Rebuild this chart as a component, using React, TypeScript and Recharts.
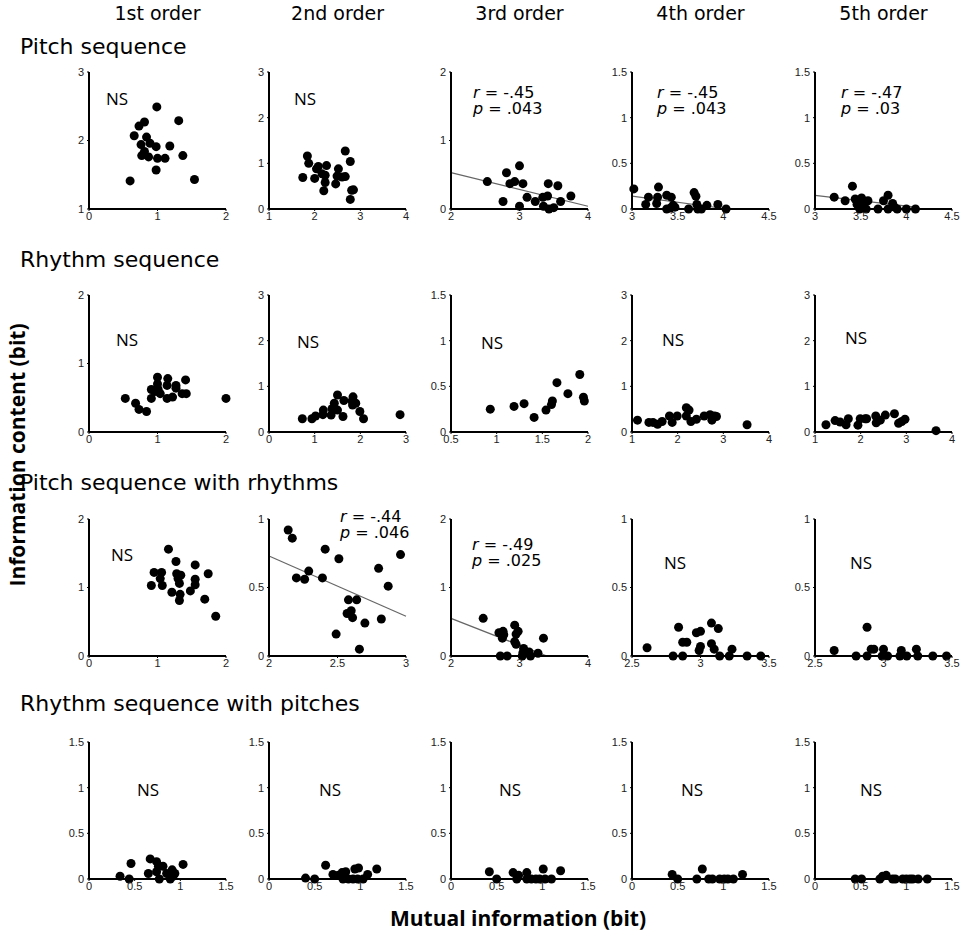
import React from 'react';
import { ScatterChart, Scatter, XAxis, YAxis, ReferenceLine } from 'recharts';

type Pt = [number, number];

const orders = ['1st order', '2nd order', '3rd order', '4th order', '5th order'];
const conditions = [
  'Pitch sequence',
  'Rhythm sequence',
  'Pitch sequence with rhythms',
  'Rhythm sequence with pitches',
];

// [mutual information, information content] for each participant
const pitch1: Pt[] = [[0.99,2.49],[0.73,2.21],[0.81,2.27],[1.31,2.29],[0.66,2.07],[0.84,2.05],[0.76,1.94],[0.89,1.96],[0.98,1.91],[0.81,1.84],[1.18,1.92],[0.77,1.78],[0.87,1.76],[1.0,1.74],[1.11,1.74],[1.37,1.78],[0.98,1.57],[0.6,1.41],[1.54,1.43]];
const pitch2: Pt[] = [[1.84,1.16],[1.87,1.0],[1.74,0.69],[2.0,0.67],[2.04,0.88],[2.08,0.93],[2.26,0.95],[2.16,0.77],[2.23,0.74],[2.23,0.58],[2.2,0.4],[2.46,0.55],[2.52,0.88],[2.49,0.72],[2.6,0.7],[2.67,0.71],[2.67,1.27],[2.78,1.04],[2.81,0.41],[2.85,0.42],[2.78,0.21]];
const pitch3: Pt[] = [[2.53,0.4],[2.81,0.53],[2.86,0.37],[2.93,0.4],[3.0,0.63],[3.05,0.37],[2.76,0.11],[3.0,0.04],[3.11,0.17],[3.23,0.11],[3.34,0.17],[3.42,0.37],[3.41,0.19],[3.35,0.04],[3.43,0],[3.5,0.02],[3.56,0.34],[3.6,0.11],[3.75,0.19]];
const pitch4: Pt[] = [[3.02,0.22],[3.15,0.05],[3.18,0.13],[3.29,0.24],[3.28,0.13],[3.27,0.06],[3.38,0.15],[3.43,0.13],[3.38,0],[3.42,0.01],[3.45,0.04],[3.47,0.02],[3.62,0],[3.68,0.18],[3.7,0.14],[3.71,0.05],[3.72,0],[3.76,0],[3.82,0.04],[3.94,0.05],[4.03,0]];
const pitch5: Pt[] = [[3.21,0.13],[3.33,0.09],[3.41,0.25],[3.44,0.11],[3.46,0.05],[3.49,0],[3.51,0.12],[3.54,0.07],[3.56,0],[3.58,0.09],[3.69,0],[3.75,0.09],[3.8,0.15],[3.8,0],[3.85,0.06],[3.87,0.02],[3.9,0],[4.0,0],[4.1,0]];

const rhythm1: Pt[] = [[0.53,0.49],[0.68,0.42],[0.73,0.33],[0.84,0.3],[0.91,0.62],[0.91,0.49],[1.0,0.8],[1.0,0.7],[1.01,0.62],[0.96,0.59],[1.04,0.56],[1.15,0.78],[1.14,0.68],[1.14,0.49],[1.22,0.51],[1.27,0.68],[1.27,0.64],[1.41,0.76],[1.36,0.56],[1.42,0.56],[2.0,0.49]];
const rhythm2: Pt[] = [[0.73,0.29],[0.94,0.29],[1.02,0.35],[1.18,0.38],[1.19,0.48],[1.36,0.37],[1.38,0.51],[1.43,0.63],[1.5,0.81],[1.5,0.48],[1.62,0.34],[1.64,0.69],[1.84,0.77],[1.82,0.68],[1.83,0.59],[1.9,0.63],[1.99,0.45],[2.07,0.29],[2.87,0.38]];
const rhythm3: Pt[] = [[0.93,0.25],[1.19,0.28],[1.3,0.31],[1.41,0.16],[1.54,0.24],[1.6,0.3],[1.61,0.34],[1.66,0.54],[1.78,0.42],[1.91,0.63],[1.95,0.38],[1.96,0.34]];
const rhythm4: Pt[] = [[1.12,0.26],[1.37,0.21],[1.46,0.21],[1.56,0.17],[1.66,0.23],[1.82,0.35],[1.88,0.21],[1.99,0.35],[2.19,0.53],[2.25,0.48],[2.19,0.35],[2.29,0.23],[2.41,0.28],[2.58,0.35],[2.71,0.38],[2.75,0.26],[2.81,0.35],[2.85,0.34],[3.52,0.16]];
const rhythm5: Pt[] = [[1.24,0.16],[1.44,0.25],[1.55,0.22],[1.68,0.16],[1.73,0.29],[1.94,0.15],[1.99,0.29],[2.1,0.29],[2.13,0.29],[2.33,0.35],[2.34,0.2],[2.38,0.27],[2.43,0.26],[2.54,0.37],[2.74,0.4],[2.83,0.19],[2.9,0.23],[2.97,0.28],[3.65,0.03]];

const pitchR1: Pt[] = [[1.16,1.56],[1.27,1.38],[1.55,1.33],[0.95,1.22],[1.06,1.22],[1.28,1.2],[1.34,1.18],[1.74,1.2],[1.04,1.13],[1.3,1.13],[1.55,1.12],[0.91,1.03],[1.07,1.03],[1.32,1.06],[1.55,1.04],[1.21,0.93],[1.48,0.95],[1.33,0.9],[1.69,0.83],[1.32,0.81],[1.85,0.58]];
const pitchR2: Pt[] = [[2.14,0.92],[2.17,0.86],[2.41,0.78],[2.51,0.71],[2.96,0.74],[2.8,0.64],[2.2,0.57],[2.26,0.56],[2.29,0.62],[2.39,0.57],[2.87,0.51],[2.58,0.41],[2.64,0.41],[2.57,0.31],[2.6,0.33],[2.61,0.28],[2.7,0.24],[2.82,0.27],[2.49,0.16],[2.66,0.05]];
const pitchR3: Pt[] = [[2.47,0.55],[2.7,0.34],[2.76,0.36],[2.77,0.31],[2.75,0.26],[2.93,0.45],[2.98,0.36],[2.95,0.32],[2.93,0.21],[2.95,0.17],[3.06,0.11],[3.05,0.05],[3.14,0.06],[3.27,0.04],[3.35,0.26],[2.72,0],[2.82,0],[3.04,0],[3.16,0]];
const pitchR4: Pt[] = [[2.61,0.06],[2.84,0.21],[2.8,0],[2.87,0],[2.87,0.1],[2.9,0.1],[2.97,0.17],[3.0,0.18],[3.08,0.24],[3.13,0.2],[3.0,0.07],[2.99,0.04],[3.08,0.09],[3.1,0.05],[3.14,0],[3.21,0],[3.23,0.05],[3.34,0],[3.44,0]];
const pitchR5: Pt[] = [[2.64,0.04],[2.8,0],[2.88,0.21],[2.88,0],[2.91,0.05],[2.93,0.05],[3.0,0.05],[2.99,0],[3.03,0],[3.12,0],[3.13,0.04],[3.17,0],[3.24,0.05],[3.25,0],[3.36,0],[3.46,0]];

const rhythmP1: Pt[] = [[0.34,0.03],[0.46,0.17],[0.44,0],[0.67,0.22],[0.65,0.06],[0.74,0.19],[0.76,0.14],[0.81,0.14],[0.74,0.08],[0.77,0],[0.85,0.06],[0.91,0.1],[0.94,0.06],[0.89,0],[0.92,0.03],[1.03,0.16]];
const rhythmP2: Pt[] = [[0.4,0.01],[0.5,0],[0.62,0.15],[0.7,0.05],[0.76,0.04],[0.8,0.07],[0.84,0.08],[0.81,0],[0.87,0],[0.92,0],[0.94,0.11],[0.98,0.12],[0.97,0],[1.03,0],[1.08,0.05],[1.18,0.11]];
const rhythmP3: Pt[] = [[0.42,0.08],[0.5,0],[0.68,0.07],[0.74,0.04],[0.72,0],[0.83,0.07],[0.83,0],[0.88,0],[0.93,0],[0.97,0],[1.01,0.11],[1.03,0],[1.1,0],[1.2,0.09]];
const rhythmP4: Pt[] = [[0.44,0.05],[0.5,0],[0.71,0],[0.77,0.11],[0.84,0],[0.88,0],[0.96,0],[1.01,0],[1.05,0],[1.11,0],[1.21,0.05]];
const rhythmP5: Pt[] = [[0.44,0],[0.51,0],[0.71,0],[0.74,0.03],[0.78,0.04],[0.85,0],[0.88,0],[0.96,0],[1.0,0],[1.04,0],[1.07,0],[1.13,0],[1.23,0]];

// axis ticks per panel (first and last tick are the axis limits)
const xTicks: number[][][] = [
  [[0, 1, 2], [1, 2, 3, 4], [2, 3, 4], [3, 3.5, 4, 4.5], [3, 3.5, 4, 4.5]],
  [[0, 1, 2], [0, 1, 2, 3], [0.5, 1, 1.5, 2], [1, 2, 3, 4], [1, 2, 3, 4]],
  [[0, 1, 2], [2, 2.5, 3], [2, 3, 4], [2.5, 3, 3.5], [2.5, 3, 3.5]],
  [[0, 0.5, 1, 1.5], [0, 0.5, 1, 1.5], [0, 0.5, 1, 1.5], [0, 0.5, 1, 1.5], [0, 0.5, 1, 1.5]],
];
const yTicks: number[][][] = [
  [[1, 2, 3], [0, 1, 2, 3], [0, 1, 2], [0, 0.5, 1, 1.5], [0, 0.5, 1, 1.5]],
  [[0, 1, 2], [0, 1, 2, 3], [0, 0.5, 1, 1.5], [0, 1, 2, 3], [0, 1, 2, 3]],
  [[0, 1, 2], [0, 0.5, 1], [0, 1, 2], [0, 0.5, 1], [0, 0.5, 1]],
  [[0, 0.5, 1, 1.5], [0, 0.5, 1, 1.5], [0, 0.5, 1, 1.5], [0, 0.5, 1, 1.5], [0, 0.5, 1, 1.5]],
];

// regression lines (endpoints) and statistics of the significant panels
const pitch3Fit: Pt[] = [[2, 0.53], [4, 0.04]];
const pitch4Fit: Pt[] = [[3, 0.14], [4.05, 0]];
const pitch5Fit: Pt[] = [[3, 0.15], [4.1, 0.02]];
const pitchR2Fit: Pt[] = [[2, 0.73], [3, 0.29]];
const pitchR3Fit: Pt[] = [[2, 0.55], [3.4, 0]];

const pitch3Stat = { r: '-.45', p: '.043' };
const pitch4Stat = { r: '-.45', p: '.043' };
const pitch5Stat = { r: '-.47', p: '.03' };
const pitchR2Stat = { r: '-.44', p: '.046' };
const pitchR3Stat = { r: '-.49', p: '.025' };

const panels = [
  [pitch1, pitch2, pitch3, pitch4, pitch5],
  [rhythm1, rhythm2, rhythm3, rhythm4, rhythm5],
  [pitchR1, pitchR2, pitchR3, pitchR4, pitchR5],
  [rhythmP1, rhythmP2, rhythmP3, rhythmP4, rhythmP5],
];
const fits: (Pt[] | null)[][] = [
  [null, null, pitch3Fit, pitch4Fit, pitch5Fit],
  [null, null, null, null, null],
  [null, pitchR2Fit, pitchR3Fit, null, null],
  [null, null, null, null, null],
];
const stats: ({ r: string; p: string } | null)[][] = [
  [null, null, pitch3Stat, pitch4Stat, pitch5Stat],
  [null, null, null, null, null],
  [null, pitchR2Stat, pitchR3Stat, null, null],
  [null, null, null, null, null],
];

// layout: plot-area origin of each column / row, and label offsets inside a panel
const colLeft = [89, 269, 451, 632, 815];
const rowTop = [72, 295, 519, 742];
const rowTitleY = [46, 259, 482, 703];
const PW = 137;
const PH = 137;
const AXW = 30;
const noteAt: number[][][] = [
  [[28, 26], [36, 26], [22, 21], [25, 21], [26, 21]],
  [[38, 44], [39, 46], [41, 47], [41, 44], [41, 42]],
  [[33, 35], [71, -2], [21, 26], [43, 43], [46, 43]],
  [[59, 47], [61, 47], [59, 47], [60, 47], [56, 47]],
];

const labelFont = "'Open Sans', 'DejaVu Sans', sans-serif";
const titleFont = "'DejaVu Sans', sans-serif";
const tickStyle = { fontSize: 11, fill: '#222', fontFamily: "'Liberation Sans', Arial, sans-serif" };

const Dot = (p: any) => <circle cx={p.cx} cy={p.cy} r={4.5} fill="#000" />;

function Panel({ pts, xt, yt, fit, left, top }: { pts: Pt[]; xt: number[]; yt: number[]; fit: Pt[] | null; left: number; top: number }) {
  const data = pts.map(([x, y]) => ({ x, y }));
  return (
    <div style={{ position: 'absolute', left: left - AXW, top: top - 5 }}>
      <ScatterChart width={AXW + PW + 14} height={5 + PH + 20} margin={{ top: 5, right: 14, left: 0, bottom: 0 }}>
        <XAxis
          type="number"
          dataKey="x"
          domain={[xt[0], xt[xt.length - 1]]}
          ticks={xt}
          interval={0}
          height={20}
          axisLine={{ stroke: '#000', strokeWidth: 2 }}
          tickLine={{ stroke: '#000' }}
          tickSize={2}
          tickMargin={1}
          tick={tickStyle}
        />
        <YAxis
          type="number"
          dataKey="y"
          domain={[yt[0], yt[yt.length - 1]]}
          ticks={yt}
          interval={0}
          width={AXW}
          axisLine={{ stroke: '#000', strokeWidth: 2 }}
          tickLine={{ stroke: '#000' }}
          tickSize={2}
          tickMargin={3}
          tick={tickStyle}
        />
        {fit && (
          <ReferenceLine
            segment={[{ x: fit[0][0], y: fit[0][1] }, { x: fit[1][0], y: fit[1][1] }]}
            stroke="#666"
            strokeWidth={1.2}
          />
        )}
        <Scatter data={data} isAnimationActive={false} shape={Dot} />
      </ScatterChart>
    </div>
  );
}

function Note({ ri, ci }: { ri: number; ci: number }) {
  const [dx, dy] = noteAt[ri][ci];
  const s = stats[ri][ci];
  const x = colLeft[ci] + dx;
  const y = rowTop[ri] + dy;
  if (!s) {
    return (
      <div style={{ position: 'absolute', left: x, top: y, transform: 'translate(-50%, -50%)', fontFamily: labelFont, fontSize: 17, lineHeight: '17px' }}>
        NS
      </div>
    );
  }
  return (
    <div style={{ position: 'absolute', left: x, top: y - 8, fontFamily: titleFont, fontSize: 16, lineHeight: '16px', whiteSpace: 'nowrap' }}>
      <div><i>r</i> = {s.r}</div>
      <div><i>p</i> = {s.p}</div>
    </div>
  );
}

export default function App() {
  return (
    <div style={{ position: 'absolute', left: 0, top: 0, width: 963, height: 942, background: '#fff', fontFamily: labelFont, color: '#000' }}>
      {orders.map((o, ci) => (
        <div key={o} style={{ position: 'absolute', left: colLeft[ci] + PW / 2, top: 13, transform: 'translate(-50%, -50%)', fontFamily: titleFont, fontSize: 19, whiteSpace: 'nowrap' }}>
          {o}
        </div>
      ))}
      {conditions.map((c, ri) => (
        <div key={c} style={{ position: 'absolute', left: 20, top: rowTitleY[ri], transform: 'translateY(-50%)', fontFamily: titleFont, fontSize: 22, whiteSpace: 'nowrap' }}>
          {c}
        </div>
      ))}
      {panels.map((row, ri) =>
        row.map((pts, ci) => (
          <React.Fragment key={`${ri}-${ci}`}>
            <Panel pts={pts} xt={xTicks[ri][ci]} yt={yTicks[ri][ci]} fit={fits[ri][ci]} left={colLeft[ci]} top={rowTop[ri]} />
            <Note ri={ri} ci={ci} />
          </React.Fragment>
        ))
      )}
      <div style={{ position: 'absolute', left: 17, top: 455, transform: 'translate(-50%, -50%) rotate(-90deg)', fontSize: 21, fontWeight: 700, whiteSpace: 'nowrap' }}>
        Information content (bit)
      </div>
      <div style={{ position: 'absolute', left: 518, top: 918, transform: 'translate(-50%, -50%)', fontSize: 21, fontWeight: 700, whiteSpace: 'nowrap' }}>
        Mutual information (bit)
      </div>
    </div>
  );
}
